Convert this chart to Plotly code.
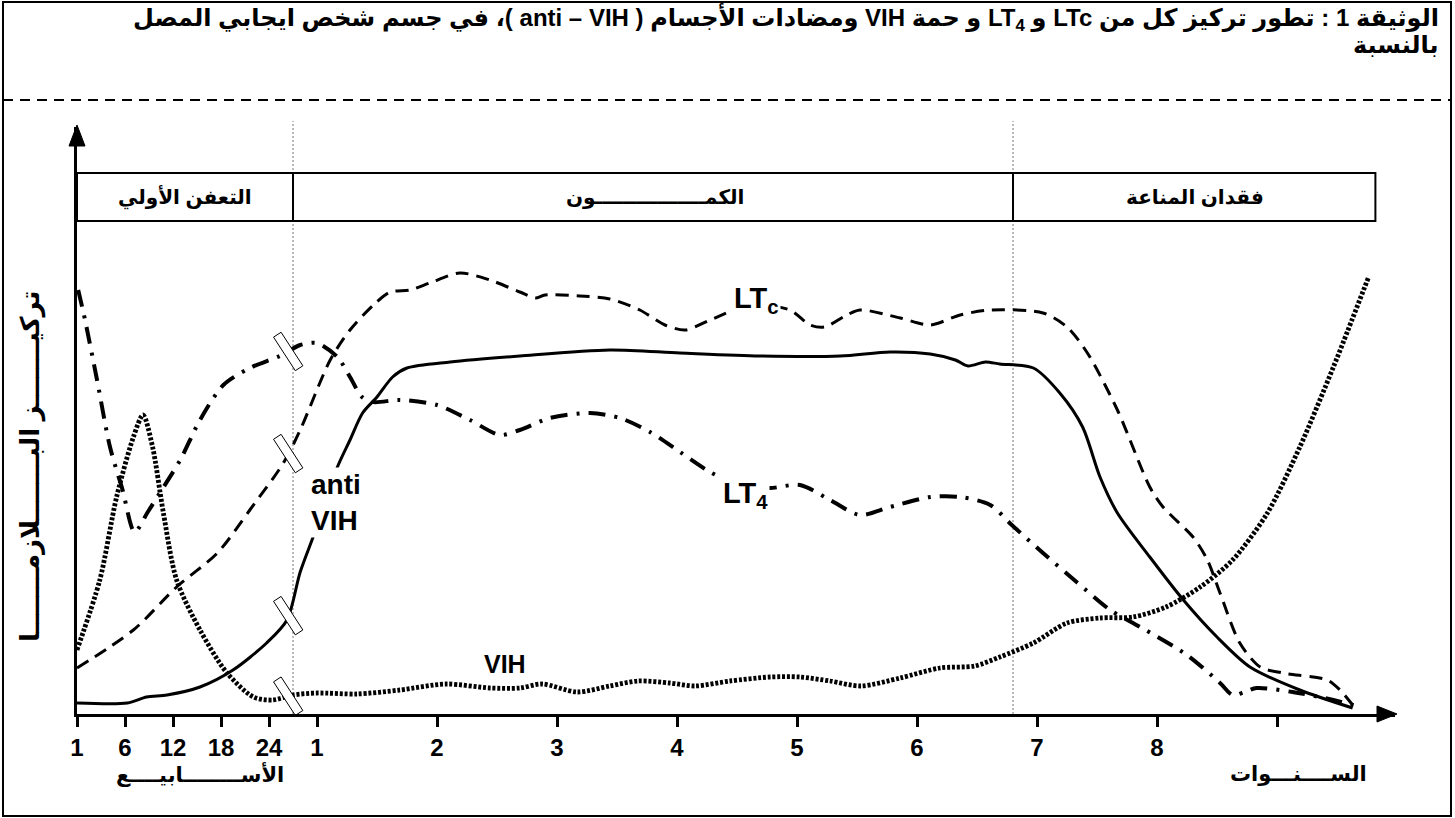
import numpy as np
import plotly.graph_objects as go

FONT = "Arial, 'Liberation Sans', 'DejaVu Sans', sans-serif"
RLE, PDF = "\u202b", "\u202c"

# ---------------- data ----------------
# x: axis position (weeks 1,6,12,18,24 -> 0,4,8,12,16 ; years 1..8 -> 20..90)
tick_vals = [0, 4, 8, 12, 16, 20, 30, 40, 50, 60, 70, 80, 90, 100]
tick_text = ["1", "6", "12", "18", "24", "1", "2", "3", "4", "5", "6", "7", "8", " "]

anti_x = [0, 4.2, 5.8, 7.5, 10.25, 13, 15.8, 17.5, 18.6, 19.8, 21.7, 22.75, 23.8, 25, 26.3, 27.5,
          31.1, 36.9, 44.4, 50.25, 56.9, 63.6, 67.75, 71.1, 73.2, 74.25, 75.7, 76.9, 79.7, 81.9,
          83.8, 85.25, 86.7, 89.4, 92.2, 95, 97.75, 101.9, 106.3]
anti_y = [17, 17, 23, 25, 33, 50, 77, 100, 148, 187, 253, 280, 307, 323, 343, 352,
          358, 364, 370, 367, 364, 364, 368, 366, 360, 354, 358, 356, 352, 327,
          293, 243, 207, 163, 120, 83, 53, 30, 12]

ltc_x = [0, 4.7, 8.3, 11.7, 14.4, 17.2, 18.6, 21.1, 22.75, 24.7, 26.1, 27.75, 29.4, 31.9, 34.4,
         36.9, 38.2, 39, 41.9, 44.4, 46.9, 49, 50.7, 52.75, 56.1, 59.4, 61.1, 62.3, 64, 65.25,
         68.6, 71.1, 73.6, 76.1, 80.5, 82.5, 84.2, 86.7, 89.4, 90.5, 93, 94.2, 95.25, 96.9,
         98.6, 100.5, 104.2, 105.25, 106.3]
ltc_y = [52, 90, 133, 167, 210, 257, 290, 360, 390, 415, 428, 430, 437, 447, 440,
         428, 422, 425, 424, 421, 410, 395, 390, 400, 415, 410, 395, 393, 404, 410,
         402, 395, 405, 410, 407, 393, 367, 310, 233, 213, 183, 160, 127, 77,
         53, 47, 40, 30, 15]

lt4_x = [0.1, 0.67, 1.67, 2.75, 3.8, 4.8, 5.9, 6.9, 8.6, 10.25, 12.2, 14.4, 16.9, 18.6, 20,
         21.7, 22.75, 23.75, 24.7, 26.9, 30, 32.75, 35.25, 36.9, 39.4, 42.75, 45.25, 47.75,
         50.25, 52.75, 55.25, 57.75, 60.25, 62.75, 65.25, 67.75, 71.1, 73.6, 76.1, 77.9, 80.5,
         83.3, 86.1, 88.6, 92.5, 95.25, 96.3, 97.3, 98.3, 101.3, 104.7, 106.9]
lt4_y = [430, 400, 340, 273, 230, 188, 208, 227, 260, 300, 335, 352, 364, 375, 377,
         363, 343, 323, 318, 320, 315, 300, 285, 290, 302, 307, 302, 288,
         268, 248, 235, 232, 235, 220, 205, 213, 223, 223, 215, 195, 167,
         138, 110, 93, 65, 37, 25, 28, 32, 28, 20, 13]

vih_x = [0, 1.9, 3.3, 4.7, 5.5, 6.3, 7.2, 8.3, 10.25, 12.5, 14.7, 16.3, 18, 20, 23.3, 26.9,
         30.75, 34.4, 36.9, 38.75, 41.7, 44.4, 46.75, 49.4, 51.5, 54.4, 57.75, 60.25, 62.75,
         65.3, 68.6, 71.9, 74.8, 76.9, 79.7, 82.5, 85.25, 88, 90.75, 93.6, 96.3, 99.2, 101.9,
         104.7, 107.6]
vih_y = [70, 140, 223, 283, 305, 273, 207, 140, 90, 47, 23, 20, 25, 27, 26, 30,
         36, 32, 32, 36, 28, 34, 39, 37, 34, 39, 43, 43, 39,
         34, 42, 52, 54, 63, 77, 97, 102, 103, 113, 133, 160, 207, 273,
         353, 442]

phase_names = ["التعفن الأولي", "الكمــــــــــــــــون", "فقدان المناعة"]
phase_bounds = [0, 18, 78, 108.2]
phase_label_x = [9, 48.2, 93.2]

# ---------------- geometry helpers ----------------
W, H = 1455, 818
L, R, T, B = 77, 60, 127, 104
PW, PH = W - L - R, H - T - B
XMAX = PW / 12.0
Y0 = 6
YMAX = Y0 + float(PH)


def px(xp):
    return (xp - L) / PW


def py(yp):
    return (H - B - yp) / PH


fig = go.Figure()

fig.add_trace(go.Scatter(x=ltc_x, y=ltc_y, mode="lines",
                         line=dict(color="black", width=3, dash="13px,8px", shape="spline", smoothing=0.8)))
fig.add_trace(go.Scatter(x=lt4_x, y=lt4_y, mode="lines",
                         line=dict(color="black", width=4, dash="17px,9px,3px,9px", shape="spline", smoothing=0.8)))
fig.add_trace(go.Scatter(x=anti_x, y=anti_y, mode="lines",
                         line=dict(color="black", width=3, shape="spline", smoothing=0.8)))
fig.add_trace(go.Scatter(x=vih_x, y=vih_y, mode="lines",
                         line=dict(color="black", width=4.8, dash="3px,1.8px", shape="spline", smoothing=0.8)))

shapes = []
# vertical dotted separators
for xv in (18, 78):
    shapes.append(dict(type="line", xref="x", yref="paper", x0=xv, x1=xv, y0=0, y1=py(121),
                       line=dict(color="#777", width=1, dash="2px,2px"), layer="below"))
# phase header boxes
for i in range(3):
    shapes.append(dict(type="rect", xref="x", yref="y", x0=phase_bounds[i], x1=phase_bounds[i + 1],
                       y0=499, y1=547, line=dict(color="black", width=2), fillcolor="rgba(0,0,0,0)"))

# break marks (small tilted rectangles) at the week/year junction
ang = np.deg2rad(33)
ux, uy = np.sin(ang), np.cos(ang)
nx, ny = np.cos(ang), -np.sin(ang)
hl, hw = 20, 4.5
for cx_, cy_ in ((lt4_x, lt4_y), (ltc_x, ltc_y), (anti_x, anti_y), (vih_x, vih_y)):
    xc = 17.6
    yc = float(np.interp(xc, cx_, cy_))
    pts = []
    for sa, sb in ((-1, -1), (-1, 1), (1, 1), (1, -1)):
        dxp = sa * hl * ux + sb * hw * nx
        dyp = sa * hl * uy + sb * hw * ny
        pts.append((xc + dxp / 12.0, yc - dyp))
    path = "M " + " L ".join(f"{a:.3f},{b:.3f}" for a, b in pts) + " Z"
    shapes.append(dict(type="path", xref="x", yref="y", path=path, fillcolor="white",
                       line=dict(color="black", width=1), layer="above"))

# outer frame and dashed separator
shapes.append(dict(type="rect", xref="paper", yref="paper", x0=px(3), x1=px(1451), y0=py(816), y1=py(2),
                   line=dict(color="black", width=2)))
shapes.append(dict(type="line", xref="paper", yref="paper", x0=px(3), x1=px(1451), y0=py(100), y1=py(100),
                   line=dict(color="black", width=2, dash="10px,7px")))
# axis arrow heads
AX = H - B
shapes.append(dict(type="path", xref="paper", yref="paper",
                   path=f"M {px(1397)},{py(AX)} L {px(1377)},{py(AX - 8)} L {px(1377)},{py(AX + 8)} Z",
                   fillcolor="black", line=dict(color="black", width=1)))
shapes.append(dict(type="path", xref="paper", yref="paper",
                   path=f"M {px(L)},{py(125)} L {px(L - 8)},{py(146)} L {px(L + 8)},{py(146)} Z",
                   fillcolor="black", line=dict(color="black", width=1)))

ann = []
title1 = RLE + "الوثيقة 1 : تطور تركيز كل من LTc و LT<sub>4</sub> و حمة VIH ومضادات الأجسام ( anti – VIH )، في جسم شخص ايجابي المصل" + PDF
title2 = RLE + "بالنسبة" + PDF
ann.append(dict(text=title1, xref="paper", yref="paper", x=px(1441), y=py(19), xanchor="right", yanchor="middle",
                showarrow=False, font=dict(family=FONT, size=24, color="black", weight="bold")))
ann.append(dict(text=title2, xref="paper", yref="paper", x=px(1441), y=py(44), xanchor="right", yanchor="middle",
                showarrow=False, font=dict(family=FONT, size=24, color="black", weight="bold")))
for name, xl in zip(phase_names, phase_label_x):
    ann.append(dict(text=name, x=xl, y=523, xref="x", yref="y", showarrow=False,
                    xanchor="center", yanchor="middle",
                    font=dict(family=FONT, size=20, color="black", weight="bold")))
ann.append(dict(text="تركيـــــــز البـــــــلازمـــــــا", xref="paper", yref="paper", x=px(30), y=py(466),
                xanchor="center", yanchor="middle",
                textangle=-90, showarrow=False, font=dict(family=FONT, size=26, color="black", weight="bold")))
ann.append(dict(text="الأســــــــابيــــع", xref="paper", yref="paper", x=px(200), y=py(774), showarrow=False,
                xanchor="center", yanchor="middle",
                font=dict(family=FONT, size=21, color="black", weight="bold")))
ann.append(dict(text="الســــنـــوات", xref="paper", yref="paper", x=px(1298), y=py(774), showarrow=False,
                xanchor="center", yanchor="middle",
                font=dict(family=FONT, size=21, color="black", weight="bold")))
# curve labels
ann.append(dict(text="LT<sub>c</sub>", x=56.6, y=420, xref="x", yref="y", showarrow=False, bgcolor="white",
                font=dict(family=FONT, size=29, color="black", weight="bold")))
ann.append(dict(text="LT<sub>4</sub>", x=55.7, y=225, xref="x", yref="y", showarrow=False, bgcolor="white",
                font=dict(family=FONT, size=29, color="black", weight="bold")))
ann.append(dict(text="anti<br>VIH", x=19.3, y=218, xref="x", yref="y", xanchor="left", align="left",
                showarrow=False, bgcolor="white",
                font=dict(family=FONT, size=28, color="black", weight="bold")))
ann.append(dict(text="VIH", x=35.7, y=56, xref="x", yref="y", showarrow=False,
                font=dict(family=FONT, size=25, color="black", weight="bold")))

fig.update_layout(
    width=W, height=H, margin=dict(l=L, r=R, t=T, b=B, pad=0),
    paper_bgcolor="white", plot_bgcolor="white", showlegend=False,
    xaxis=dict(range=[0, XMAX], tickmode="array", tickvals=tick_vals, ticktext=tick_text,
               ticks="outside", ticklen=10, tickwidth=3, tickcolor="black",
               showline=True, linewidth=3, linecolor="black", showgrid=False, zeroline=False,
               tickfont=dict(family=FONT, size=24, color="black", weight="bold")),
    yaxis=dict(range=[Y0, YMAX], showline=True, linewidth=3, linecolor="black", showgrid=False,
               zeroline=False, showticklabels=False, ticks=""),
    shapes=shapes, annotations=ann,
)

fig.write_html("out.html", post_script="document.body.style.margin='0px';",
               config={"displayModeBar": False})
